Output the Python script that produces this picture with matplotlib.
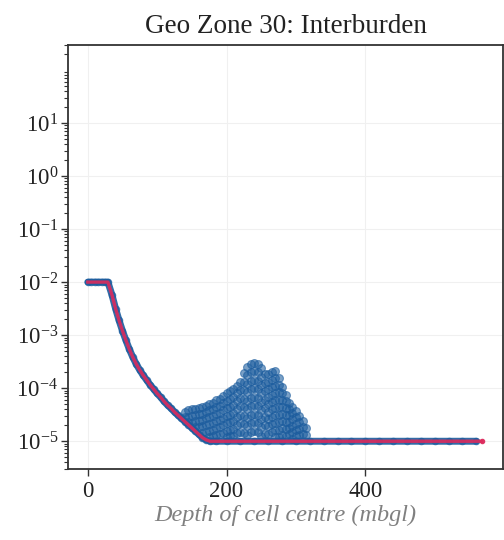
import numpy as np
import matplotlib
matplotlib.use("Agg")
import matplotlib.pyplot as plt
from matplotlib.ticker import LogLocator, NullFormatter, LogFormatterMathtext

# ---- data ----
# main profile: depth of cell centre (mbgl) and log10 K
curve_depth = [0, 5, 10, 15, 20, 25, 29, 35, 40, 45, 50, 55, 60, 65, 70, 75, 80, 85,
               90, 95, 100, 105, 110, 115, 120, 125, 130, 135, 140, 145, 150, 155,
               160, 165, 170, 176, 185, 200, 220, 240, 260, 280, 300, 320, 340, 360,
               380, 400, 420, 440, 460, 480, 500, 520, 540, 560]
curve_log10k = [-2.0, -2.0, -2.0, -2.0, -2.0, -2.0, -2.0, -2.25, -2.5, -2.72, -2.92,
                -3.1, -3.27, -3.42, -3.55, -3.66, -3.76, -3.85, -3.94, -4.02, -4.10,
                -4.17, -4.25, -4.32, -4.38, -4.45, -4.51, -4.57, -4.63, -4.69, -4.75,
                -4.81, -4.87, -4.93, -4.97, -5.0, -5.0, -5.0, -5.0, -5.0, -5.0, -5.0,
                -5.0, -5.0, -5.0, -5.0, -5.0, -5.0, -5.0, -5.0, -5.0, -5.0, -5.0, -5.0,
                -5.0, -5.0]
# design line continues to the last cell
line_end_depth = [568]
line_end_log10k = [-5.0]

# plume of cells above the profile (depth column -> log10 K values)
plume_depth = [140, 145, 150, 155, 160, 165, 170, 175, 180, 185, 190, 195, 200, 205,
               210, 215, 220, 225, 230, 235, 240, 245, 250, 255, 260, 265, 270, 275,
               280, 285, 290, 295, 300, 305, 310, 315]
plume_log10k = [
    [-4.45, -4.55],
    [-4.42, -4.54, -4.64],
    [-4.40, -4.52, -4.65],
    [-4.39, -4.50, -4.62, -4.74],
    [-4.37, -4.49, -4.61, -4.74],
    [-4.36, -4.48, -4.60, -4.72, -4.84],
    [-4.33, -4.45, -4.57, -4.70, -4.82],
    [-4.30, -4.42, -4.55, -4.68, -4.80, -4.92],
    [-4.27, -4.40, -4.52, -4.65, -4.78, -4.90],
    [-4.23, -4.36, -4.49, -4.62, -4.75, -4.88],
    [-4.20, -4.33, -4.46, -4.60, -4.73, -4.86],
    [-4.15, -4.28, -4.42, -4.56, -4.70, -4.84],
    [-4.10, -4.24, -4.38, -4.52, -4.66, -4.80, -4.92],
    [-4.06, -4.20, -4.35, -4.50, -4.64, -4.78, -4.90],
    [-4.02, -4.16, -4.31, -4.46, -4.61, -4.76, -4.90],
    [-3.95, -4.10, -4.25, -4.40, -4.55, -4.70, -4.85],
    [-3.88, -4.03, -4.18, -4.34, -4.50, -4.66, -4.82],
    [-3.72, -3.88, -4.04, -4.20, -4.36, -4.52, -4.68, -4.84],
    [-3.60, -3.76, -3.92, -4.08, -4.24, -4.40, -4.56, -4.72, -4.88],
    [-3.54, -3.70, -3.86, -4.02, -4.18, -4.34, -4.50, -4.66, -4.82],
    [-3.52, -3.68, -3.84, -4.00, -4.16, -4.32, -4.48, -4.64, -4.80],
    [-3.55, -3.70, -3.86, -4.02, -4.18, -4.34, -4.50, -4.66, -4.82],
    [-3.62, -3.78, -3.94, -4.10, -4.26, -4.42, -4.58, -4.74, -4.90],
    [-3.74, -3.90, -4.06, -4.22, -4.38, -4.54, -4.70, -4.86],
    [-3.74, -3.88, -4.02, -4.16, -4.30, -4.44, -4.58, -4.72, -4.86],
    [-3.70, -3.84, -3.98, -4.12, -4.26, -4.40, -4.54, -4.68, -4.82],
    [-3.67, -3.81, -3.95, -4.09, -4.23, -4.37, -4.51, -4.65, -4.79, -4.92],
    [-3.80, -3.94, -4.08, -4.22, -4.36, -4.50, -4.64, -4.78, -4.92],
    [-3.97, -4.10, -4.23, -4.36, -4.49, -4.62, -4.75, -4.88],
    [-4.12, -4.25, -4.38, -4.51, -4.64, -4.77, -4.90],
    [-4.27, -4.39, -4.51, -4.63, -4.75, -4.87],
    [-4.35, -4.47, -4.59, -4.71, -4.83, -4.95],
    [-4.43, -4.55, -4.67, -4.79, -4.91],
    [-4.52, -4.64, -4.76, -4.88],
    [-4.62, -4.74, -4.86],
    [-4.75, -4.88],
]

x_ticks = [0, 200, 400]
y_ticks = [1e-5, 1e-4, 1e-3, 1e-2, 1e-1, 1e0, 1e1]
title = "Geo Zone 30: Interburden"
xlabel = "Depth of cell centre (mbgl)"

# ---- build ----
curve_k = [10 ** v for v in curve_log10k]
px, pk = [], []
for d, vals in zip(plume_depth, plume_log10k):
    for v in vals:
        px.append(d)
        pk.append(10 ** v)

plt.rcParams['font.family'] = ['Liberation Serif', 'DejaVu Serif']
plt.rcParams['mathtext.fontset'] = 'custom'
plt.rcParams['mathtext.rm'] = 'Liberation Serif'
plt.rcParams['mathtext.it'] = 'Liberation Serif:italic'

fig = plt.figure(figsize=(5.04, 5.40), dpi=100)
ax = fig.add_axes([0.135, 0.1315, 0.863, 0.786])

ax.grid(True, which='major', color='#f0f0f0', lw=0.8, zorder=0)
ax.set_axisbelow(True)

blue = '#1b5c9e'
# cells along the profile (dense band)
ax.plot(curve_depth, curve_k, color=blue, lw=5.0, alpha=0.9, zorder=2,
        solid_capstyle='round')
ax.scatter(px, pk, s=32, color=blue, alpha=0.58, linewidths=0.8, zorder=2)
ax.scatter(curve_depth, curve_k, s=22, color=blue, alpha=0.6, linewidths=0.8, zorder=2)

line_x = curve_depth + line_end_depth
line_k = curve_k + [10 ** v for v in line_end_log10k]
ax.plot(line_x, line_k, color='#dc2a5c', lw=2.4, alpha=0.9, zorder=3,
        marker='o', ms=3, markevery=[len(line_x) - 1])

ax.set_yscale('log')
ax.set_ylim(3e-6, 3e2)
ax.set_xlim(-28.5, 598.5)
ax.set_yticks(y_ticks)
ax.yaxis.set_major_formatter(LogFormatterMathtext())
ax.yaxis.set_minor_locator(LogLocator(base=10, subs=np.arange(2, 10), numticks=100))
ax.yaxis.set_minor_formatter(NullFormatter())
ax.set_xticks(x_ticks)

for s in ax.spines.values():
    s.set_color('#333333')
    s.set_linewidth(1.3)

ax.tick_params(axis='both', which='major', length=5, width=1.0, color='#333333',
               labelsize=16.5, labelcolor='#222222', pad=2)
ax.tick_params(axis='y', which='minor', length=3, width=0.8, color='#333333')
ax.tick_params(axis='x', pad=4)

ax.set_title(title, fontsize=19.5, color='#222222', pad=8)
ax.set_xlabel(xlabel, fontsize=17.5, style='italic', color='#808080', labelpad=2)

fig.savefig('out.png', dpi=100)
